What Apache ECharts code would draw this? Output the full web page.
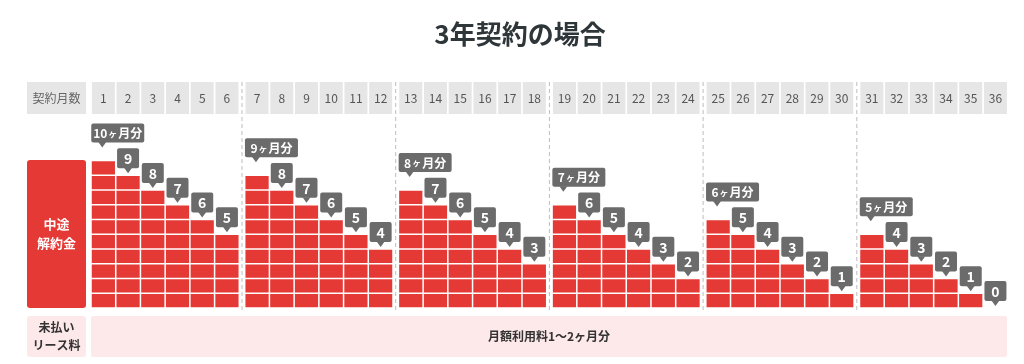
<!DOCTYPE html>
<html>
<head>
<meta charset="utf-8">
<script src="https://cdn.jsdelivr.net/npm/echarts@6/dist/echarts.min.js"></script>
<style>
  html, body { margin: 0; padding: 0; background: #fff; }
  #main { width: 1024px; height: 364px; }
</style>
</head>
<body>
<div id="main"></div>
<script>
// chart data
const months = ['1', '2', '3', '4', '5', '6', '7', '8', '9', '10', '11', '12',
  '13', '14', '15', '16', '17', '18', '19', '20', '21', '22', '23', '24',
  '25', '26', '27', '28', '29', '30', '31', '32', '33', '34', '35', '36'];
const penalty = [10, 9, 8, 7, 6, 5, 9, 8, 7, 6, 5, 4, 8, 7, 6, 5, 4, 3,
  7, 6, 5, 4, 3, 2, 6, 5, 4, 3, 2, 1, 5, 4, 3, 2, 1, 0];
const titleText = '3年契約の場合';
const headLabel = '契約月数';
const rowLabel1 = '中途\n解約金';
const rowLabel2 = '未払い\nリース料';
const leaseText = '月額利用料1〜2ヶ月分';

const RED = '#e53935';
const TAG = '#6b6b6b';
const PINK = '#fde8ea';
const FONT = '"Noto Sans CJK JP", "Noto Sans", sans-serif';

const chart = echarts.init(document.getElementById('main'), null, { renderer: 'canvas' });

const groupLeft = 91, groupPitch = 153.7, groupWidth = 148.3;
const gridTop = 160.5, gridHeight = 147.5;

function renderBlocks(params, api) {
  const idx = api.value(0);
  const v = api.value(1);
  const first = api.value(2);
  const bw = api.size([1, 0])[0];
  const base = api.coord([idx, 0]);
  const x0 = base[0] - bw / 2 + 0.75;
  const w = bw - 1.5;
  const children = [];
  for (let k = 0; k < v; k++) {
    const p0 = api.coord([idx, k]);
    const p1 = api.coord([idx, k + 1]);
    children.push({
      type: 'rect',
      shape: { x: x0, y: p1[1] + 0.75, width: w, height: p0[1] - p1[1] - 1.5 },
      style: { fill: RED }
    });
  }
  const top = api.coord([idx, v])[1];
  if (first) {
    const bx = x0 - 0.5, bh = 19, bwid = 53;
    const by = top - 18 - bh;
    const px = bx + 11;
    children.push({
      type: 'rect', shape: { x: bx, y: by, width: bwid, height: bh, r: 2 },
      style: { fill: TAG }
    });
    children.push({
      type: 'polygon', shape: { points: [[px - 4, by + bh - 0.5], [px + 4, by + bh - 0.5], [px, by + bh + 5]] },
      style: { fill: TAG }
    });
    children.push({
      type: 'text',
      style: {
        x: bx + bwid / 2, y: by + bh / 2 + 0.5,
        text: '{n|' + v + '}{s|ヶ}{n|月分}',
        align: 'center', verticalAlign: 'middle',
        rich: {
          n: { fontSize: 12, fontWeight: 'bold', fill: '#fff', fontFamily: FONT },
          s: { fontSize: 9, fontWeight: 'bold', fill: '#fff', fontFamily: FONT, padding: [0, 1] }
        }
      }
    });
  } else {
    const bwid = 22, bh = 20;
    const cx = base[0];
    const by = top - 7 - bh;
    children.push({
      type: 'rect', shape: { x: cx - bwid / 2, y: by, width: bwid, height: bh, r: 2 },
      style: { fill: TAG }
    });
    children.push({
      type: 'polygon', shape: { points: [[cx - 4, by + bh - 0.5], [cx + 4, by + bh - 0.5], [cx, by + bh + 5]] },
      style: { fill: TAG }
    });
    children.push({
      type: 'text',
      style: {
        x: cx, y: by + bh / 2 + 0.5, text: String(v),
        align: 'center', verticalAlign: 'middle',
        fill: '#fff', fontSize: 14, fontWeight: 'bold', fontFamily: FONT
      }
    });
  }
  return { type: 'group', children: children };
}

const grids = [], xAxes = [], yAxes = [], series = [];
for (let g = 0; g < 6; g++) {
  grids.push({ left: groupLeft + g * groupPitch, width: groupWidth, top: gridTop, height: gridHeight });
  xAxes.push({
    type: 'category', gridIndex: g, position: 'top', offset: gridTop - 114,
    data: months.slice(g * 6, g * 6 + 6),
    axisLine: { show: false }, axisTick: { show: false },
    axisLabel: {
      margin: 0, interval: 0, color: '#555', fontSize: 12, fontFamily: FONT,
      backgroundColor: '#e6e6e6', width: 23, height: 32, lineHeight: 32, align: 'center'
    }
  });
  yAxes.push({ type: 'value', gridIndex: g, min: 0, max: 10, show: false, splitLine: { show: false } });
  const data = [];
  for (let j = 0; j < 6; j++) data.push([j, penalty[g * 6 + j], j === 0 ? 1 : 0]);
  series.push({
    type: 'custom', xAxisIndex: g, yAxisIndex: g, clip: false,
    renderItem: renderBlocks, encode: { x: 0, y: 1 }, data: data, silent: true
  });
}

const graphics = [];
// dashed separators
for (let g = 1; g < 6; g++) {
  const x = groupLeft + g * groupPitch - 2.7;
  graphics.push({
    type: 'line', shape: { x1: x, y1: 82, x2: x, y2: 310 },
    style: { stroke: '#bdbdbd', lineWidth: 1, lineDash: [4, 3] }, z: 0
  });
}
graphics.push(
  { type: 'rect', shape: { x: 27, y: 82, width: 59, height: 32 }, style: { fill: '#e6e6e6' } },
  { type: 'text', x: 56.5, y: 98, style: { text: headLabel, fill: '#666', fontSize: 12, fontFamily: FONT, align: 'center', verticalAlign: 'middle' } },
  { type: 'rect', shape: { x: 27, y: 160, width: 59, height: 148, r: 3 }, style: { fill: RED } },
  { type: 'text', x: 56.5, y: 234, style: { text: rowLabel1, fill: '#fff', fontSize: 13, fontWeight: 'bold', lineHeight: 19, fontFamily: FONT, align: 'center', verticalAlign: 'middle' } },
  { type: 'rect', shape: { x: 27, y: 316, width: 59, height: 41, r: 3 }, style: { fill: PINK } },
  { type: 'text', x: 56.5, y: 336.5, style: { text: rowLabel2, fill: '#333', fontSize: 12, fontWeight: 'bold', lineHeight: 18, fontFamily: FONT, align: 'center', verticalAlign: 'middle' } },
  { type: 'rect', shape: { x: 91, y: 316, width: 916, height: 41, r: 2 }, style: { fill: PINK } },
  { type: 'text', x: 549, y: 336.5, style: { text: leaseText, fill: '#333', fontSize: 12, fontWeight: 'bold', fontFamily: FONT, align: 'center', verticalAlign: 'middle' } }
);

chart.setOption({
  backgroundColor: '#fff',
  animation: false,
  title: {
    text: titleText, left: 515, textAlign: 'center', top: 16,
    textStyle: { fontSize: 26, fontWeight: 'bold', color: '#2f3639', fontFamily: FONT }
  },
  grid: grids,
  xAxis: xAxes,
  yAxis: yAxes,
  series: series,
  graphic: graphics
});
</script>
</body>
</html>
